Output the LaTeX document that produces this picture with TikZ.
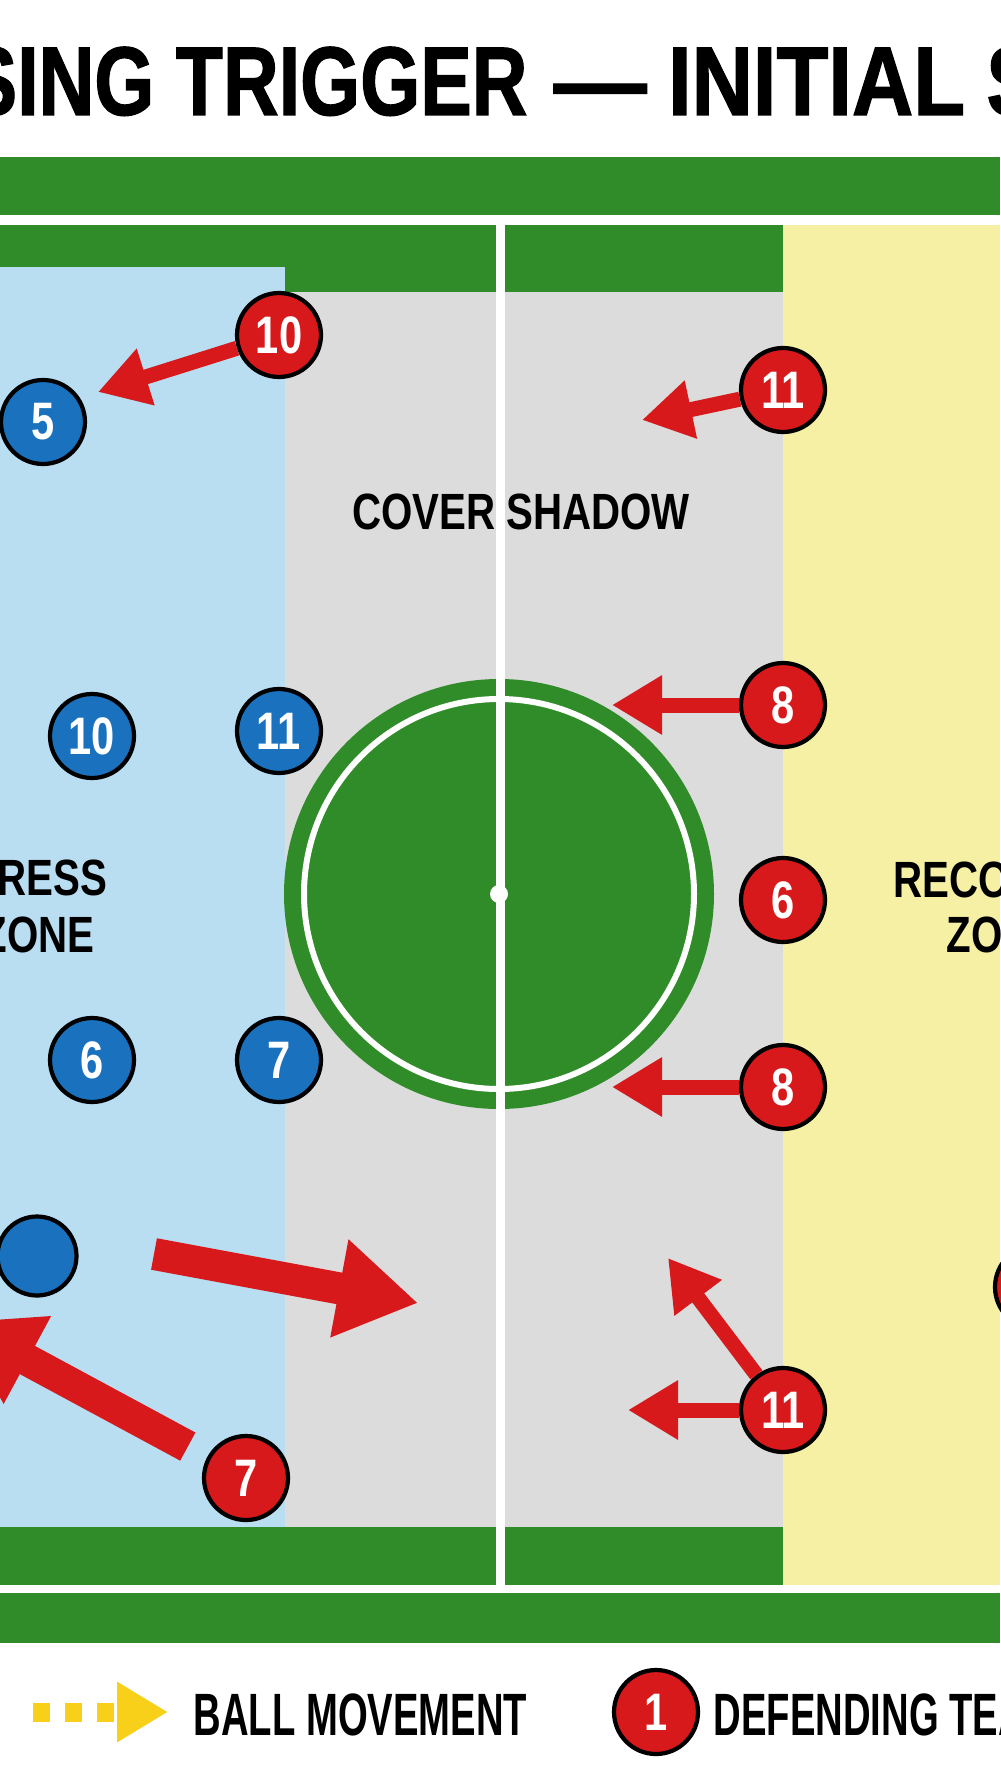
\documentclass[tikz,border=0pt]{standalone}
\usepackage{fontspec}
\setmainfont{Liberation Sans}
\newfontfamily\condfont{Liberation Sans}[FakeStretch=0.79]
\newfontfamily\titlefont{Liberation Sans}[FakeStretch=0.79, FakeBold=1.2]
\newfontfamily\narrowfont{Liberation Sans}[FakeStretch=0.64]
\usetikzlibrary{arrows.meta}
\definecolor{pitchgreen}{HTML}{2F8C28}
\definecolor{zoneblue}{HTML}{B9DDF1}
\definecolor{zonegray}{HTML}{DCDCDC}
\definecolor{zoneyellow}{HTML}{F5F0A3}
\definecolor{defred}{HTML}{D8191C}
\definecolor{attblue}{HTML}{1A72BE}
\definecolor{ballyellow}{HTML}{F8D01A}
\tikzset{
  defender/.style={circle, draw=black, line width=1.2pt, fill=defred, minimum size=8.4mm,
    inner sep=0pt, text=white, font=\condfont\bfseries\fontsize{15}{15}\selectfont},
  attacker/.style={defender, fill=attblue},
  run/.style={draw=defred, line width=1.5mm, -{Triangle[length=5mm,width=5.6mm]}},
  bigrun/.style={draw=defred, line width=3.2mm, -{Triangle[length=8mm,width=9.4mm]}},
  ballmove/.style={draw=ballyellow, line width=1.9mm, dash pattern=on 1.7mm off 1.5mm,
    -{Triangle[length=5.1mm,width=5.7mm]}},
  zonelabel/.style={inner sep=0pt, font=\condfont\bfseries\fontsize{14.5}{15}\selectfont},
  legendlabel/.style={inner sep=0pt, anchor=base west, font=\narrowfont\bfseries\fontsize{17}{17}\selectfont}
}
\begin{document}
\begin{tikzpicture}[x=0.1mm, y=-0.1mm]
      \useasboundingbox (0,0) rectangle (1000,1792);
      \fill[white] (0,0) rectangle (1000,1792);
      \node[anchor=base west, inner sep=0pt, font=\titlefont\bfseries\fontsize{27.8}{30}\selectfont]
        (title) at (-35,115) {SING TRIGGER\hspace{0.5mm} \scalebox{1.2}[1]{—} \scalebox{1.1}[1]{INITIAL} S};
      \fill[pitchgreen] (0,157) rectangle (1000,215);
      \fill[pitchgreen] (0,225) rectangle (1000,1585);
      \fill[pitchgreen] (0,1593) rectangle (1000,1643);
      \fill[zoneblue] (0,267) rectangle (285,1527);
      \fill[zonegray] (285,292) rectangle (783,1527);
      \fill[zoneyellow] (783,225) rectangle (1000,1585);
      \fill[pitchgreen] (499,894) circle[radius=21.5mm];
      \draw[white, line width=0.6mm] (499,894) circle[radius=19.5mm];
      \draw[white, line width=0.9mm] (500,215) -- (500,1593);
      \fill[white] (499,894) circle[radius=0.9mm];
      \node[zonelabel, anchor=base] (shadow) at (521,530) {COVER SHADOW};
      \node[zonelabel, anchor=base east] (press1) at (108,895) {RESS};
      \node[zonelabel, anchor=base east] (press2) at (95,952) {ZONE};
      \node[zonelabel, anchor=base west] (recover1) at (893,897) {RECO};
      \node[zonelabel, anchor=base west] (recover2) at (946,952) {ZO};
      \draw
        (43,422) node[attacker] (a5){5}
        (92,736) node[attacker] (a10){10}
        (279,731) node[attacker] (a11){11}
        (92,1060) node[attacker] (a6){6}
        (279,1060) node[attacker] (a7){7}
        (37,1256) node[attacker, minimum size=7.9mm] (aball){};
      \draw
        (279,335) node[defender] (d10){10}
        (783,390) node[defender] (d11){11}
        (783,705) node[defender] (d8){8}
        (783,900) node[defender] (d6){6}
        (783,1087) node[defender] (d8b){8}
        (783,1410) node[defender] (d11b){11}
        (246,1478) node[defender] (d7){7}
        (1037,1287) node[defender] (dedge){};
      \coordinate (t10) at (98,392);
      \coordinate (t11) at (642,420);
      \coordinate (t8) at (612,705);
      \coordinate (t8b) at (612,1087);
      \coordinate (t11b) at (628,1410);
      \coordinate (t11c) at (668,1258);
      \coordinate (t7) at (-43,1322);
      \coordinate (passtail) at (154,1254);
      \coordinate (passhead) at (418,1303);
      \begin{scope}
        \draw[run] (d10) to (t10);
        \draw[run] (d11) to (t11);
        \draw[run] (d8) to (t8);
        \draw[run] (d8b) to (t8b);
        \draw[run] (d11b) to (t11b);
        \draw[run] (d11b) to (t11c);
        \draw[bigrun, shorten <=2.2mm] (d7) to (t7);
        \draw[bigrun] (passtail) to (passhead);
      \end{scope}
      \coordinate (legtail) at (33,1712);
      \coordinate (leghead) at (168,1712);
      \draw[ballmove] (legtail) -- (leghead);
      \node[legendlabel] (legball) at (193,1735) {BALL MOVEMENT};
      \node[defender] (legdef) at (656,1712) {1};
      \node[legendlabel] (legdeftext) at (713,1735) {DEFENDING TEA};
\end{tikzpicture}
\end{document}
